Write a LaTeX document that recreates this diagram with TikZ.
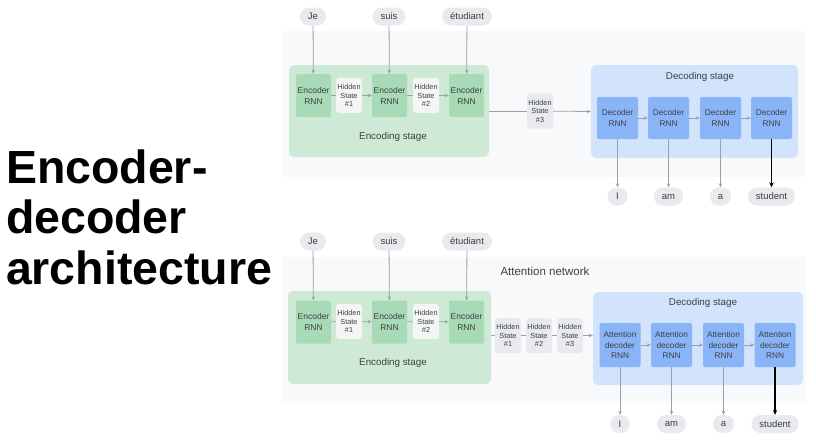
\documentclass[tikz,border=0pt]{standalone}
\usepackage{fontspec}
\setmainfont{Liberation Sans}
\usetikzlibrary{arrows.meta}

\definecolor{panelgray}{HTML}{F8F9FA}
\definecolor{pillgray}{HTML}{E8EAED}
\definecolor{stagegreen}{HTML}{CEEAD6}
\definecolor{encgreen}{HTML}{A8DAB5}
\definecolor{hidwhite}{HTML}{F4F6F5}
\definecolor{stageblue}{HTML}{D2E3FC}
\definecolor{decblue}{HTML}{8AB4F8}
\definecolor{textgray}{HTML}{3C4043}
\definecolor{arrowgray}{HTML}{9AA0A6}

\begin{document}
\begin{tikzpicture}[x=1pt, y=-1pt,
    every node/.style={text=textgray},
    pill/.style={fill=pillgray, rounded corners=9pt, minimum height=18pt, minimum width=20pt, inner xsep=8pt, font=\fontsize{9.5}{11}\selectfont},
    stage/.style={fill=#1, rounded corners=5pt, inner sep=0pt},
    enc/.style={fill=encgreen, rounded corners=1.5pt, minimum width=35pt, minimum height=43pt, inner sep=0pt, align=center, font=\fontsize{8.5}{11}\selectfont},
    hid/.style={fill=#1, rounded corners=3pt, minimum width=26pt, minimum height=35pt, inner sep=0pt, align=center, font=\fontsize{7.3}{8.6}\selectfont},
    dec/.style={fill=decblue, rounded corners=2pt, minimum width=41pt, minimum height=#1, inner sep=0pt, align=center, font=\fontsize{8.3}{10.8}\selectfont},
    stagelabel/.style={font=\fontsize{9.8}{11}\selectfont},
    conn/.style={draw=arrowgray, line width=0.8pt},
    arr/.style={conn, -{Stealth[length=4pt, width=3.5pt]}},
    outarr/.style={draw=black, line width=1.2pt, -{Stealth[length=5pt, width=4.5pt]}}]

\useasboundingbox (0,0) rectangle (816,440);

% title
\node[anchor=base west, text=black, font=\bfseries\fontsize{46.5}{50}\selectfont] (t1) at (2.5,183) {Encoder-};
\node[anchor=base west, text=black, font=\bfseries\fontsize{46.5}{50}\selectfont] (t2) at (2.5,233) {decoder};
\node[anchor=base west, text=black, font=\bfseries\fontsize{46.5}{50}\selectfont] (t3) at (2.5,284) {architecture};

% ---------- top: encoder-decoder ----------
\fill[panelgray] (282,31) rectangle (805,177);

\node[pill] (je) at (313,16.5) {Je};
\node[pill] (suis) at (389,16.5) {suis};
\node[pill] (etud) at (467,16.5) {étudiant};

\node[stage=stagegreen, minimum width=200pt, minimum height=92pt] (encstage) at (389,111) {};
\node[stagelabel] (enclabel) at (393,137) {Encoding stage};
\node[enc] (enc1) at (313.5,95.5) {Encoder\\RNN};
\node[hid=hidwhite] (hid1) at (349,95.5) {Hidden\\State\\\#1};
\node[enc] (enc2) at (389.5,95.5) {Encoder\\RNN};
\node[hid=hidwhite] (hid2) at (426,95.5) {Hidden\\State\\\#2};
\node[enc] (enc3) at (466.5,95.5) {Encoder\\RNN};

\node[hid=pillgray] (hid3) at (540,111) {Hidden\\State\\\#3};

\node[stage=stageblue, minimum width=207pt, minimum height=93pt] (decstage) at (694.5,111.5) {};
\node[stagelabel] (declabel) at (700,77) {Decoding stage};
\node[dec=42pt] (dec1) at (617.5,118) {Decoder\\RNN};
\node[dec=42pt] (dec2) at (668.5,118) {Decoder\\RNN};
\node[dec=42pt] (dec3) at (720.5,118) {Decoder\\RNN};
\node[dec=42pt] (dec4) at (771.5,118) {Decoder\\RNN};

\node[pill] (o1) at (617.5,196.5) {I};
\node[pill] (o2) at (668.5,196.5) {am};
\node[pill] (o3) at (720.5,196.5) {a};
\node[pill] (o4) at (771.5,196.5) {student};

\draw[arr] (je) -- (enc1);
\draw[arr] (suis) -- (enc2);
\draw[arr] (etud) -- (enc3);
\draw[conn] (enc1) -- (hid1);
\draw[arr] (hid1) -- (enc2);
\draw[conn] (enc2) -- (hid2);
\draw[arr] (hid2) -- (enc3);
\draw[conn] (encstage.east) -- (hid3);
\draw[arr] (hid3) -- (decstage.west);
\draw[arr] (dec1) -- (dec2);
\draw[arr] (dec2) -- (dec3);
\draw[arr] (dec3) -- (dec4);
\draw[arr] (dec1) -- (o1);
\draw[arr] (dec2) -- (o2);
\draw[arr] (dec3) -- (o3);
\draw[outarr] (dec4) -- (o4);

% ---------- bottom: with attention ----------
\fill[panelgray] (282,257) rectangle (806,403);
\node[anchor=west, font=\fontsize{11.5}{13}\selectfont] (attlabel) at (497,271) {Attention network};

\node[pill] (je2) at (313,241.5) {Je};
\node[pill] (suis2) at (389,241.5) {suis};
\node[pill] (etud2) at (467,241.5) {étudiant};

\node[stage=stagegreen, minimum width=203pt, minimum height=93pt] (encstageb) at (389.5,337.5) {};
\node[stagelabel] (enclabelb) at (393,363) {Encoding stage};
\node[enc] (encb1) at (313.5,322) {Encoder\\RNN};
\node[hid=hidwhite] (hidb1) at (349,321.5) {Hidden\\State\\\#1};
\node[enc] (encb2) at (389.5,322) {Encoder\\RNN};
\node[hid=hidwhite] (hidb2) at (426,321.5) {Hidden\\State\\\#2};
\node[enc] (encb3) at (466.5,322) {Encoder\\RNN};

\node[hid=pillgray] (att1) at (508,335.5) {Hidden\\State\\\#1};
\node[hid=pillgray] (att2) at (539,335.5) {Hidden\\State\\\#2};
\node[hid=pillgray] (att3) at (570,335.5) {Hidden\\State\\\#3};

\node[stage=stageblue, minimum width=210pt, minimum height=93pt] (decstageb) at (698,338.5) {};
\node[stagelabel] (declabelb) at (703,303) {Decoding stage};
\node[dec=44pt] (decb1) at (620,345) {Attention\\decoder\\RNN};
\node[dec=44pt] (decb2) at (671.5,345) {Attention\\decoder\\RNN};
\node[dec=44pt] (decb3) at (723.5,345) {Attention\\decoder\\RNN};
\node[dec=44pt] (decb4) at (775,345) {Attention\\decoder\\RNN};

\node[pill] (ob1) at (620,424) {I};
\node[pill] (ob2) at (671.5,424) {am};
\node[pill] (ob3) at (723.5,424) {a};
\node[pill] (ob4) at (775,424) {student};

\draw[arr] (je2) -- (encb1);
\draw[arr] (suis2) -- (encb2);
\draw[arr] (etud2) -- (encb3);
\draw[conn] (encb1) -- (hidb1);
\draw[arr] (hidb1) -- (encb2);
\draw[conn] (encb2) -- (hidb2);
\draw[arr] (hidb2) -- (encb3);
\draw[conn] (encstageb.east |- att1) -- (att1);
\draw[conn] (att1) -- (att2);
\draw[conn] (att2) -- (att3);
\draw[arr] (att3) -- (decstageb.west |- att3);
\draw[arr] (decb1) -- (decb2);
\draw[arr] (decb2) -- (decb3);
\draw[arr] (decb3) -- (decb4);
\draw[arr] (decb1) -- (ob1);
\draw[arr] (decb2) -- (ob2);
\draw[arr] (decb3) -- (ob3);
\draw[outarr] (decb4) -- (ob4);

\end{tikzpicture}
\end{document}
